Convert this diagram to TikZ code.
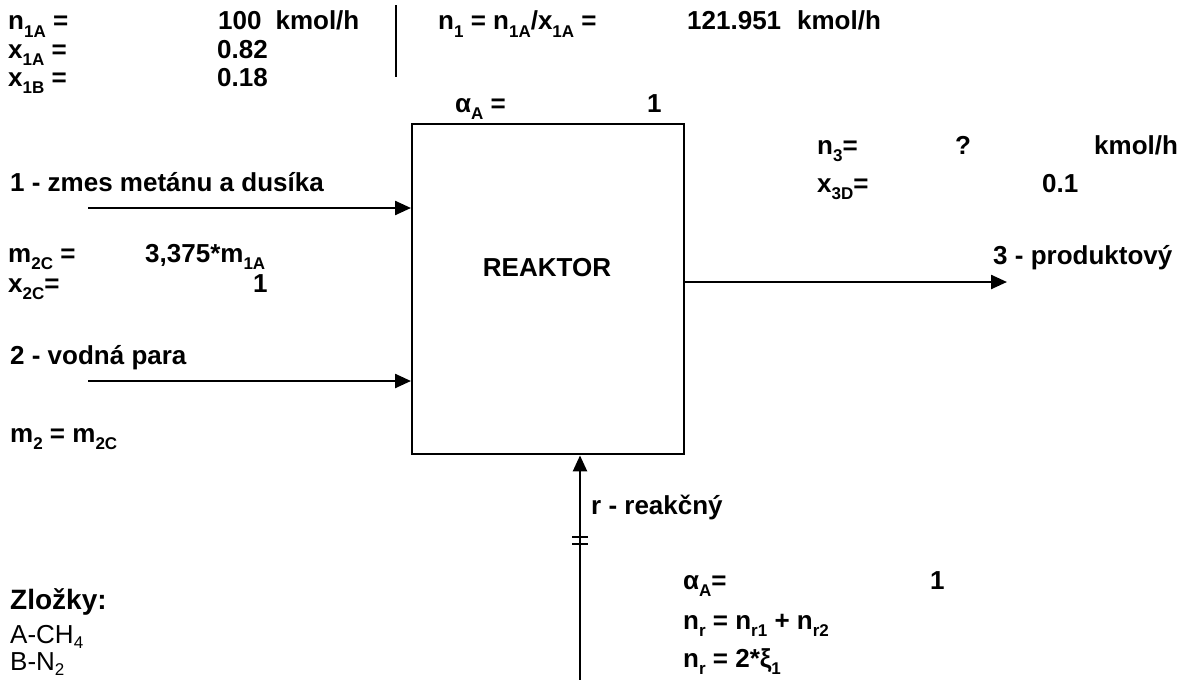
\documentclass[tikz,border=0pt]{standalone}
\usepackage{fontspec}
\setmainfont{Liberation Sans}
\usetikzlibrary{arrows.meta}
\newcommand\lo[1]{\raisebox{-0.27em}{\fontsize{17}{17}\selectfont #1}}
\newcommand\loreg[1]{\raisebox{-0.2em}{\fontsize{17}{17}\selectfont #1}}
\begin{document}
\begin{tikzpicture}[x=1pt,y=-1pt,
  lbl/.style={anchor=base west,inner sep=0pt,font=\fontsize{26}{30}\selectfont\bfseries},
  lblr/.style={anchor=base west,inner sep=0pt,font=\fontsize{26}{30}\selectfont},
  flow/.style={line width=2.4pt,-{Triangle[length=16pt,width=14pt]}},
  thick2/.style={line width=2.4pt}]
\useasboundingbox (0,0) rectangle (1187,680);
% reactor
\node[draw,line width=2.4pt,minimum width=272pt,minimum height=330pt,inner sep=0pt,anchor=north west] (reactor) at (411,123) {};
\node[lbl,anchor=base] (rk) at (547,276) {REAKTOR};
% top left
\node[lbl] (t1) at (8,30) {n\lo{1A} =};
\node[lbl] (t2) at (218,30) {100\hspace{14pt}kmol/h};
\node[lbl] (t3) at (8,58) {x\lo{1A} =};
\node[lbl] (t4) at (217,58) {0.82};
\node[lbl] (t5) at (8,86) {x\lo{1B} =};
\node[lbl] (t6) at (217,86) {0.18};
\coordinate (sepA) at (396,5);
\coordinate (sepB) at (396,77);
\draw[thick2] (sepA) -- (sepB);
\node[lbl] (t7) at (438,30) {n\lo{1} = n\lo{1A}/x\lo{1A} =};
\node[lbl] (t8) at (687,30) {121.951\hspace{16pt}kmol/h};
\node[lbl] (t9) at (455,112) {α\lo{A} =};
\node[lbl] (t10) at (647,112) {1};
% right
\node[lbl] (t11) at (817,154) {n\lo{3}=};
\node[lbl] (t12) at (955,154) {?};
\node[lbl] (t13) at (1094,154) {kmol/h};
\node[lbl] (t14) at (817,192) {x\lo{3D}=};
\node[lbl] (t15) at (1042,192) {0.1};
\node[lbl] (t16) at (993,264) {3 - produktový};
% left streams
\node[lbl] (t17) at (10,191) {1 - zmes metánu a dusíka};
\node[lbl] (t18) at (8,262) {m\lo{2C} =};
\node[lbl] (t19) at (145,262) {3,375*m\lo{1A}};
\node[lbl] (t20) at (8,292) {x\lo{2C}=};
\node[lbl] (t21) at (253,292) {1};
\node[lbl] (t22) at (10,364) {2 - vodná para};
\node[lbl] (t23) at (10,442) {m\lo{2} = m\lo{2C}};
% components
\node[lbl,font=\fontsize{28}{32}\selectfont\bfseries] (t24) at (10,609) {Zložky:};
\node[lblr] (t25) at (10,643) {A-CH\loreg{4}};
\node[lblr] (t26) at (10,670) {B-N\loreg{2}};
% reaction stream
\node[lbl] (t27) at (591,514) {r - reakčný};
\node[lbl] (t28) at (683,589) {α\lo{A}=};
\node[lbl] (t29) at (930,589) {1};
\node[lbl] (t30) at (683,629) {n\lo{r} = n\lo{r1} + n\lo{r2}};
\node[lbl] (t31) at (683,667) {n\lo{r} = 2*ξ\lo{1}};
% arrows
\coordinate (s1) at (88,208);
\coordinate (s2) at (88,381);
\coordinate (s3) at (1007,282);
\coordinate (sr) at (580,680);
\draw[flow] (s1) -- (s1 -| reactor.west);
\draw[flow] (s2) -- (s2 -| reactor.west);
\draw[flow] (s3 -| reactor.east) -- (s3);
\draw[flow] (sr) -- (sr |- reactor.south);
\coordinate (k1) at (580,537);
\coordinate (k2) at (580,544);
\draw[line width=1.8pt] ([xshift=-8pt]k1) -- ([xshift=8pt]k1);
\draw[line width=1.8pt] ([xshift=-8pt]k2) -- ([xshift=8pt]k2);
\end{tikzpicture}
\end{document}
